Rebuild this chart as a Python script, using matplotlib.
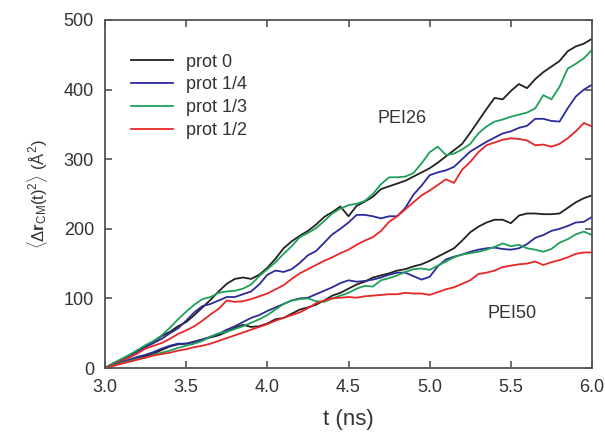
import numpy as np
import matplotlib
matplotlib.use("Agg")
import matplotlib.pyplot as plt

plt.rcParams['font.family'] = ['Liberation Sans', 'DejaVu Sans']
plt.rcParams['mathtext.fontset'] = 'custom'
plt.rcParams['mathtext.rm'] = 'Liberation Sans'
plt.rcParams['mathtext.it'] = 'Liberation Sans'
plt.rcParams['mathtext.bf'] = 'Liberation Sans:bold'

# time grid (ns)
t = np.linspace(3.0, 6.0, 61)

# PEI26
pei26_p0 = [0, 6, 12, 18, 24, 31, 38, 46, 52, 60, 66, 76, 87, 98, 110, 121, 128, 130, 128, 134,
            144, 157, 172, 182, 190, 197, 206, 217, 224, 232, 218, 233, 239, 246, 257, 261, 265, 269, 275, 281,
            287, 295, 304, 313, 322, 338, 355, 372, 388, 386, 398, 408, 402, 415, 425, 433, 441, 455, 462, 466, 473]
pei26_p14 = [0, 6, 12, 18, 24, 30, 36, 42, 50, 57, 68, 80, 89, 92, 97, 102, 102, 106, 110, 120,
             134, 140, 138, 142, 151, 162, 168, 180, 192, 200, 209, 220, 220, 218, 215, 218, 218, 230, 249, 262,
             277, 281, 284, 289, 300, 311, 318, 325, 331, 337, 340, 345, 348, 358, 358, 355, 354, 373, 390, 400, 407]
pei26_p13 = [0, 7, 13, 19, 26, 33, 39, 47, 58, 70, 81, 91, 99, 102, 108, 110, 111, 114, 120, 132,
             142, 152, 164, 175, 188, 194, 201, 211, 222, 229, 234, 236, 240, 250, 264, 274, 274, 275, 280, 294,
             310, 318, 306, 308, 314, 322, 337, 347, 354, 357, 361, 364, 367, 373, 392, 386, 404, 430, 437, 445, 457]
pei26_p12 = [0, 5, 10, 15, 21, 28, 32, 36, 42, 49, 54, 60, 68, 77, 85, 97, 95, 96, 99, 103,
             107, 113, 119, 128, 136, 142, 148, 154, 159, 165, 170, 177, 183, 188, 197, 210, 218, 228, 238, 248,
             255, 263, 271, 266, 285, 296, 310, 320, 324, 328, 330, 329, 327, 320, 321, 318, 322, 330, 340, 352, 347]

# PEI50
pei50_p0 = [0, 4, 8, 11, 14, 17, 21, 26, 31, 34, 35, 38, 41, 44, 47, 52, 58, 62, 59, 60,
            64, 70, 72, 78, 84, 87, 91, 97, 104, 108, 114, 120, 124, 130, 133, 136, 140, 142, 146, 149,
            154, 160, 166, 172, 183, 195, 203, 209, 213, 213, 208, 219, 222, 222, 221, 221, 222, 230, 238, 244, 248]
pei50_p14 = [0, 4, 8, 12, 16, 19, 23, 28, 32, 35, 35, 37, 41, 45, 49, 55, 60, 66, 72, 76,
             82, 87, 92, 97, 100, 101, 106, 111, 116, 122, 126, 124, 125, 127, 130, 134, 137, 137, 132, 127,
             131, 146, 156, 160, 163, 167, 170, 172, 173, 171, 170, 172, 178, 187, 191, 197, 200, 204, 209, 210, 217]
pei50_p13 = [0, 4, 7, 10, 13, 15, 19, 22, 25, 29, 32, 35, 39, 45, 50, 52, 56, 60, 65, 70,
             76, 84, 92, 97, 99, 100, 96, 95, 100, 104, 108, 114, 118, 117, 126, 129, 133, 138, 142, 143,
             141, 147, 153, 159, 163, 165, 167, 170, 174, 179, 175, 177, 172, 170, 167, 171, 180, 185, 192, 196, 191]
pei50_p12 = [0, 3, 6, 9, 12, 15, 18, 20, 22, 25, 27, 30, 32, 35, 39, 43, 47, 51, 55, 59,
             63, 68, 72, 76, 80, 86, 93, 97, 100, 101, 102, 101, 103, 104, 105, 106, 106, 108, 107, 107,
             105, 109, 113, 116, 121, 126, 135, 137, 140, 145, 147, 149, 150, 153, 148, 152, 155, 159, 164, 166, 166]

labels = ['prot 0', 'prot 1/4', 'prot 1/3', 'prot 1/2']
colors = ['#222222', '#2b2b9a', '#1fa05a', '#e82626']

fig = plt.figure(figsize=(6.05, 4.42), dpi=100)
ax = fig.add_axes([0.1736, 0.1674, 0.8049, 0.7874])

for y, lab, c in zip([pei26_p0, pei26_p14, pei26_p13, pei26_p12], labels, colors):
    ax.plot(t, y, color=c, lw=1.3, label=lab)
for y, c in zip([pei50_p0, pei50_p14, pei50_p13, pei50_p12], colors):
    ax.plot(t, y, color=c, lw=1.3)

ax.set_xlim(3.0, 6.0)
ax.set_ylim(0, 500)
ax.set_xticks([3.0, 3.5, 4.0, 4.5, 5.0, 5.5, 6.0])
ax.set_xticklabels(['3.0', '3.5', '4.0', '4.5', '5.0', '5.5', '6.0'])
ax.set_yticks([0, 100, 200, 300, 400, 500])
ax.tick_params(direction='in', length=5, width=1.1, top=True, right=True,
               labelsize=13, colors='#444444', labelcolor='#333333', pad=8)
for s in ax.spines.values():
    s.set_color('#555555')
    s.set_linewidth(1.3)

ax.set_xlabel('t (ns)', fontsize=16, color='#333333', labelpad=9)
ax.set_ylabel(r'$\langle\Delta\mathbf{r}_{\rm CM}(t)^2\rangle$ (Å$^2$)', fontsize=12,
              color='#333333', labelpad=10)

ax.text(4.83, 359, 'PEI26', fontsize=13, color='#333333', ha='center', va='center')
ax.text(5.51, 79, 'PEI50', fontsize=13, color='#333333', ha='center', va='center')

leg = ax.legend(loc='upper left', bbox_to_anchor=(0.02, 0.95), frameon=False, fontsize=13,
                handlelength=2.3, labelspacing=0.32, handletextpad=0.75)
for txt in leg.get_texts():
    txt.set_color('#333333')

fig.savefig('out.png', dpi=100)
